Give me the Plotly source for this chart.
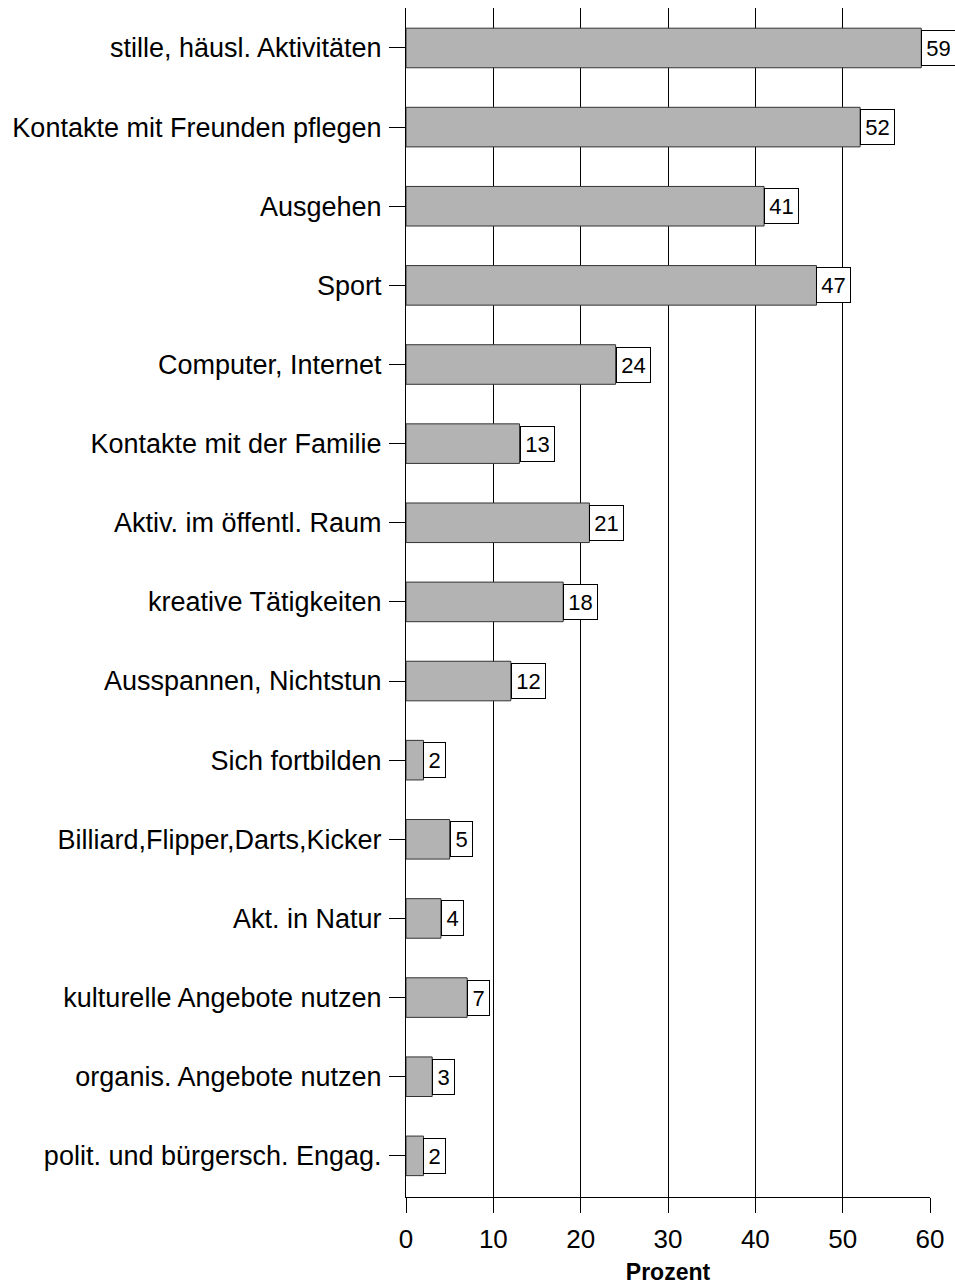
import plotly.graph_objects as go

categories = [
    "stille, häusl. Aktivitäten",
    "Kontakte mit Freunden pflegen",
    "Ausgehen",
    "Sport",
    "Computer, Internet",
    "Kontakte mit der Familie",
    "Aktiv. im öffentl. Raum",
    "kreative Tätigkeiten",
    "Ausspannen, Nichtstun",
    "Sich fortbilden",
    "Billiard,Flipper,Darts,Kicker",
    "Akt. in Natur",
    "kulturelle Angebote nutzen",
    "organis. Angebote nutzen",
    "polit. und bürgersch. Engag.",
]
values = [59, 52, 41, 47, 24, 13, 21, 18, 12, 2, 5, 4, 7, 3, 2]
x_ticks = [0, 10, 20, 30, 40, 50, 60]

FONT = "Liberation Sans, Arial, sans-serif"

fig = go.Figure()
fig.add_trace(go.Bar(
    x=values,
    y=categories,
    orientation="h",
    width=0.5,
    marker=dict(color="#b3b3b3", line=dict(color="#333333", width=1)),
    hoverinfo="x+y",
))

for c, v in zip(categories, values):
    fig.add_annotation(
        x=v, y=c, xref="x", yref="y",
        text=str(v), showarrow=False,
        xanchor="left", yanchor="middle",
        font=dict(family=FONT, size=22, color="black"),
        bgcolor="white", bordercolor="black", borderwidth=1,
        borderpad=0,
        width=33 if v >= 10 else 21, height=34,
    )

fig.update_layout(
    width=955, height=1285,
    margin=dict(l=406, r=25, t=8, b=88),
    paper_bgcolor="white", plot_bgcolor="white",
    showlegend=False,
    font=dict(family=FONT, color="black"),
    bargap=0.5,
)
fig.update_xaxes(
    range=[0, 60],
    tickvals=x_ticks,
    ticktext=[str(t) for t in x_ticks],
    showgrid=True, gridcolor="black", gridwidth=1,
    zeroline=False,
    showline=True, linecolor="black", linewidth=1,
    ticks="outside", ticklen=15, tickcolor="black", tickwidth=1,
    tickfont=dict(size=26, family=FONT, color="black"),
    ticklabelstandoff=4,
    automargin=False,
    title=dict(text="<b>Prozent</b>", font=dict(size=23, family=FONT, color="black"), standoff=10),
)
fig.update_yaxes(
    categoryorder="array", categoryarray=categories,
    range=[14.52, -0.505],
    showgrid=False, zeroline=False,
    showline=True, linecolor="black", linewidth=1,
    ticks="outside", ticklen=16, tickcolor="black", tickwidth=1,
    tickfont=dict(size=27, family=FONT, color="black"),
    ticklabelstandoff=2,
    automargin=False,
)

fig.write_html(
    "out.html",
    config={"displayModeBar": False},
    post_script="document.body.style.margin='0';document.body.style.overflow='hidden';",
)
